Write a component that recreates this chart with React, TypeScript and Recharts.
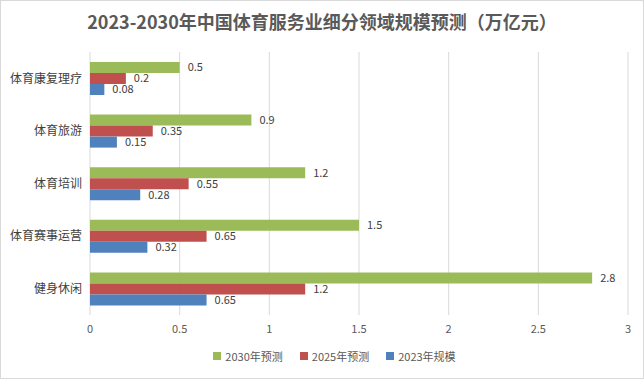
import { BarChart, Bar, XAxis, YAxis, CartesianGrid, Legend, LabelList } from 'recharts';

const categories = ['体育康复理疗', '体育旅游', '体育培训', '体育赛事运营', '健身休闲'];
const forecast2030 = [0.5, 0.9, 1.2, 1.5, 2.8];
const forecast2025 = [0.2, 0.35, 0.55, 0.65, 1.2];
const scale2023 = [0.08, 0.15, 0.28, 0.32, 0.65];
const xTicks = [0, 0.5, 1, 1.5, 2, 2.5, 3];

const seriesList = [
  { key: 'y2030', name: '2030年预测', color: '#9BBB59' },
  { key: 'y2025', name: '2025年预测', color: '#C0504D' },
  { key: 'y2023', name: '2023年规模', color: '#4F81BD' },
];

const data = categories.map((name, i) => ({
  name,
  y2030: forecast2030[i],
  y2025: forecast2025[i],
  y2023: scale2023[i],
}));

const FONT = '"Noto Sans CJK SC", "Noto Sans", sans-serif';

// fixed order legend (recharts flips it in vertical layout)
const LegendBox = () => (
  <div
    style={{
      display: 'flex',
      justifyContent: 'center',
      gap: 17,
      fontSize: 11,
      color: '#595959',
      paddingLeft: 40,
      paddingTop: 5,
    }}
  >
    {seriesList.map((s) => (
      <div key={s.key} style={{ display: 'flex', alignItems: 'center', gap: 4 }}>
        <span style={{ width: 8, height: 8, background: s.color, display: 'inline-block' }} />
        <span>{s.name}</span>
      </div>
    ))}
  </div>
);

export default function App() {
  return (
    <div
      style={{
        position: 'absolute',
        left: 0,
        top: 0,
        width: 644,
        height: 379,
        border: '1px solid #d9d9d9',
        boxSizing: 'border-box',
        background: '#fff',
        fontFamily: FONT,
      }}
    >
      <div
        style={{
          position: 'absolute',
          top: 7,
          left: 0,
          width: 642,
          textAlign: 'center',
          fontSize: 18,
          fontWeight: 'bold',
          color: '#595959',
        }}
      >
        2023-2030年中国体育服务业细分领域规模预测（万亿元）
      </div>
      <BarChart
        width={642}
        height={377}
        data={data}
        layout="vertical"
        margin={{ top: 51, right: 15, left: 0, bottom: 5 }}
        barSize={11}
        barGap={0}
      >
        <CartesianGrid horizontal={false} stroke="#d9d9d9" />
        <XAxis
          type="number"
          domain={[0, 3]}
          ticks={xTicks}
          axisLine={false}
          tickLine={false}
          tickSize={0}
          tickMargin={10}
          height={28}
          tick={{ fontSize: 11, fill: '#595959', fontFamily: FONT }}
        />
        <YAxis
          type="category"
          dataKey="name"
          width={89}
          axisLine={false}
          tickLine={false}
          tickSize={0}
          tickMargin={8}
          tick={{ fontSize: 12, fill: '#404040', fontFamily: FONT }}
        />
        <Legend verticalAlign="bottom" height={30} content={<LegendBox />} />
        {seriesList.map((s) => (
          <Bar key={s.key} dataKey={s.key} name={s.name} fill={s.color} isAnimationActive={false}>
            <LabelList dataKey={s.key} position="right" offset={8} fill="#404040" fontSize={11} />
          </Bar>
        ))}
      </BarChart>
    </div>
  );
}
